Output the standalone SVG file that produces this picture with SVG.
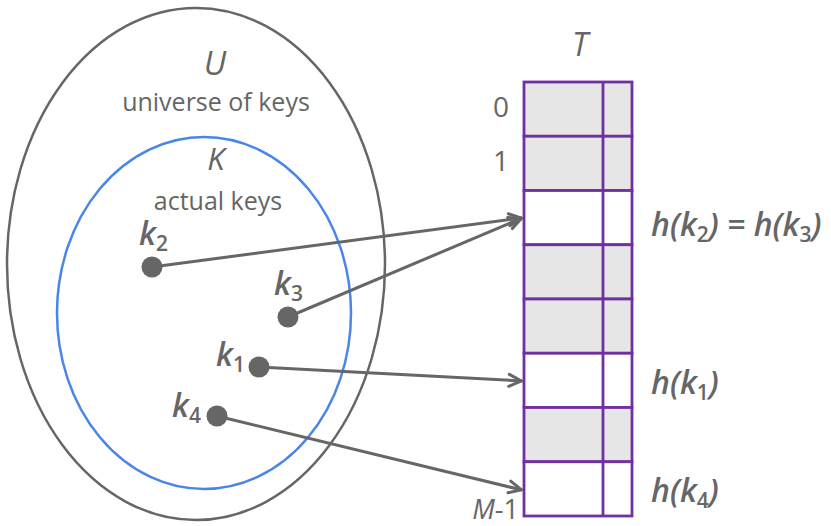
<svg xmlns="http://www.w3.org/2000/svg" width="831" height="526" viewBox="0 0 831 526">
<style>
text{font-family:"Open Sans","Liberation Sans",sans-serif;fill:#666}
.it{font-style:italic}
.lbl{font-style:italic;font-weight:600;font-size:32px}
.sub{font-size:21px;font-style:normal}
.cell{stroke:#7030a0;stroke-width:2.8}
.g{fill:#e6e6e6}
.w{fill:#fff}
.conn{stroke:#666;stroke-width:3;fill:none;marker-end:url(#ah)}
.dot{fill:#666}
</style>
<defs>
<marker id="ah" viewBox="0 0 16 16" refX="15" refY="8" markerWidth="16" markerHeight="16" markerUnits="userSpaceOnUse" orient="auto">
<path d="M2,2 L14.5,8 L2,14" fill="none" stroke="#666" stroke-width="3" stroke-linecap="round" stroke-linejoin="round"/>
</marker>
</defs>
<g id="universe">
<ellipse cx="196" cy="264" rx="189" ry="256" fill="none" stroke="#666" stroke-width="2.5"/>
<text x="215" y="75" class="it" font-size="33" text-anchor="middle">U</text>
<text x="216" y="111" font-size="25" text-anchor="middle">universe of keys</text>
</g>
<g id="actual">
<ellipse cx="204" cy="313" rx="147" ry="176" fill="none" stroke="#4a86e8" stroke-width="2.5"/>
<text x="216" y="170" class="it" font-size="31" text-anchor="middle">K</text>
<text x="218" y="210" font-size="25" text-anchor="middle">actual keys</text>
</g>
<g id="table">
<text x="580" y="56" class="it" font-size="32" text-anchor="middle">T</text>
<rect x="524" y="82" width="108" height="54.25" class="cell g"/>
<rect x="524" y="136.25" width="108" height="54.25" class="cell g"/>
<rect x="524" y="190.5" width="108" height="54.25" class="cell w"/>
<rect x="524" y="244.75" width="108" height="54.25" class="cell g"/>
<rect x="524" y="299" width="108" height="54.25" class="cell g"/>
<rect x="524" y="353.25" width="108" height="54.25" class="cell w"/>
<rect x="524" y="407.5" width="108" height="54.25" class="cell g"/>
<rect x="524" y="461.75" width="108" height="54.25" class="cell w"/>
<line x1="603" y1="82" x2="603" y2="516" class="cell"/>
<text x="501" y="117" font-size="28" text-anchor="middle">0</text>
<text x="501" y="171" font-size="28" text-anchor="middle">1</text>
<text x="519" y="519" font-size="27" text-anchor="end"><tspan font-style="italic">M</tspan>-1</text>
</g>
<g id="k2">
<circle cx="152" cy="267" r="10.5" class="dot"/>
<text x="139" y="245" class="lbl">k<tspan class="sub" dy="6">2</tspan></text>
</g>
<g id="k3">
<circle cx="288" cy="317" r="10.5" class="dot"/>
<text x="274" y="295" class="lbl">k<tspan class="sub" dy="6">3</tspan></text>
</g>
<g id="k1">
<circle cx="259" cy="367" r="10.5" class="dot"/>
<text x="216" y="366" class="lbl">k<tspan class="sub" dy="6">1</tspan></text>
</g>
<g id="k4">
<circle cx="217" cy="416" r="10.5" class="dot"/>
<text x="172" y="417" class="lbl">k<tspan class="sub" dy="6">4</tspan></text>
</g>
<g id="hlabels">
<text x="651" y="236" class="lbl">h(k<tspan class="sub" dy="6">2</tspan><tspan dy="-6">) = h(k</tspan><tspan class="sub" dy="6">3</tspan><tspan dy="-6">)</tspan></text>
<text x="651" y="394" class="lbl">h(k<tspan class="sub" dy="6">1</tspan><tspan dy="-6">)</tspan></text>
<text x="651" y="502" class="lbl">h(k<tspan class="sub" dy="6">4</tspan><tspan dy="-6">)</tspan></text>
</g>
<g id="connectors">
<line x1="152" y1="267" x2="522" y2="218" class="conn"/>
<line x1="288" y1="317" x2="522" y2="218" class="conn"/>
<line x1="259" y1="367" x2="522" y2="381" class="conn"/>
<line x1="217" y1="416" x2="522" y2="490" class="conn"/>
</g>
</svg>
